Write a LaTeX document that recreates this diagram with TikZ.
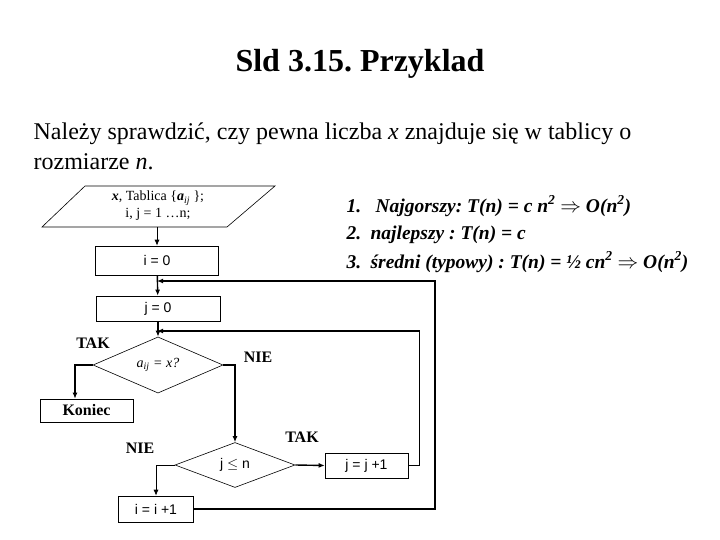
\documentclass[tikz,border=0pt]{standalone}
\usepackage{fontspec}
\setmainfont{Liberation Serif}
\newfontfamily\boxfont{Liberation Sans}
\usetikzlibrary{shapes.geometric,arrows.meta}
\frenchspacing

\begin{document}
\begin{tikzpicture}[x=1pt, y=-1pt, line width=0.6pt,
  box/.style={draw, rectangle, inner sep=0pt, font=\boxfont\fontsize{14}{16}\selectfont},
  dia/.style={draw, diamond, inner sep=0pt},
  conn/.style={line width=1.4pt, -{Latex[length=6pt,width=5pt]}},
  thin conn/.style={line width=0.8pt, -{Latex[length=6pt,width=5pt]}},
  lbl/.style={font=\bfseries\fontsize{16}{18}\selectfont},
  txt/.style={anchor=base west, font=\fontsize{24}{28}\selectfont},
  item/.style={anchor=base west, font=\bfseries\itshape\fontsize{19.5}{22}\selectfont}]

\fill[white] (0,0) rectangle (720,540);
\useasboundingbox (0,0) rectangle (720,540);

% title and task
\node[anchor=base] (title) at (360,72) {\bfseries\fontsize{32}{36}\selectfont Sld 3.15. Przyklad};
\node[txt] (task1) at (30,140) {Należy sprawdzić, czy pewna liczba \textit{x} znajduje się w tablicy o};
\node[txt] (task2) at (30,170) {rozmiarze \textit{n}.};

% complexity
\node[item] (n1) at (343,212) {1.};
\node[item] (c1) at (372,212) {Najgorszy: T(n) = c n\textsuperscript{2} $\Rightarrow$ O(n\textsuperscript{2})};
\node[item] (n2) at (343,240) {2.};
\node[item] (c2) at (367,240) {najlepszy : T(n) = c};
\node[item] (n3) at (343,268) {3.};
\node[item] (c3) at (367,268) {średni (typowy) : T(n) = ½ cn\textsuperscript{2} $\Rightarrow$ O(n\textsuperscript{2})};

% flowchart
\draw (42,227) -- (85,186) -- (275,186) -- (227,227) -- cycle;
\node[align=center, font=\fontsize{14}{17}\selectfont] (input) at (158,206)
  {\textbf{\textit{x}}, Tablica \{\textbf{\textit{a}}\textsubscript{\textit{ij}} \};\\i, j = 1 \dots n;};
\coordinate (inB) at (157,227);

\node[box, minimum width=123pt, minimum height=29pt] (i0) at (157,260.5) {i = 0};
\node[box, minimum width=124pt, minimum height=25pt] (j0) at (158,308.5) {j = 0};
\node[dia, minimum width=130pt, minimum height=44pt, font=\itshape\fontsize{14}{16}\selectfont] (d1) at (158,365)
  {\raisebox{-5pt}{a\textsubscript{ij} = x?}};
\node[box, font=\bfseries\fontsize{16}{18}\selectfont, minimum width=93pt, minimum height=23pt] (koniec) at (86.5,410.5) {Koniec};
\node[dia, minimum width=120pt, minimum height=45pt, font=\boxfont\fontsize{14}{16}\selectfont] (d2) at (235,465) {j $\leq$ n};
\node[box, minimum width=83pt, minimum height=25pt] (jinc) at (366.5,465.5) {j = j +1};
\node[box, minimum width=75pt, minimum height=26pt] (iinc) at (156,509) {i = i +1};

\node[lbl] (tak1) at (93,343) {TAK};
\node[lbl] (nie1) at (258,357) {NIE};
\node[lbl] (nie2) at (140,448) {NIE};
\node[lbl] (tak2) at (302,437) {TAK};

\coordinate (jA) at (157,281);
\coordinate (jB) at (157,331);

\draw[thin conn] (inB) -- (i0);
\draw[conn] (i0) -- (j0);
\draw[conn] (j0) -- (d1);
\draw[conn] (d1.west) -| ([xshift=-11.5pt]koniec.north);
\draw[conn] (d1.east) -| (d2.north);
\draw[conn] (d2.east) -- (jinc.west);
\draw[thin conn] (d2.west) -| (iinc.north);
\draw[conn] (jinc.east) -- ++(11,0) |- (jB);
\draw[conn] (iinc.east) -- ++(241,0) |- (jA);

\end{tikzpicture}
\end{document}
